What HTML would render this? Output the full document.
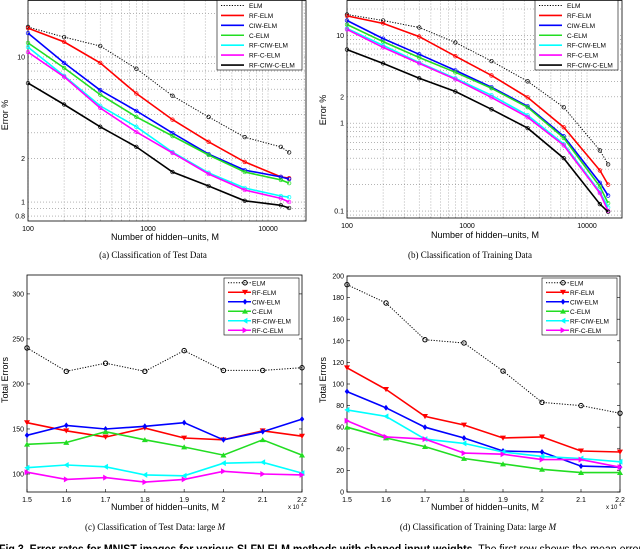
<!DOCTYPE html>
<html><head><meta charset="utf-8"><style>
html,body{margin:0;padding:0;background:#fff;overflow:hidden}
svg{display:block;font-family:"Liberation Sans",sans-serif}
.cap{font-family:"Liberation Serif",serif}
</style></head><body>
<svg id="fig" width="640" height="549" viewBox="0 0 640 549" xmlns="http://www.w3.org/2000/svg"></svg>
<script>
// ---- data ----
const seriesNames = ["ELM","RF-ELM","CIW-ELM","C-ELM","RF-CIW-ELM","RF-C-ELM","RF-CIW-C-ELM"];
const seriesColors = ["#000","#f00","#0000ff","#22dd22","#00ffff","#ff00ff","#000"];
const hiddenUnits = [100,200,400,800,1600,3200,6400,12800,15000];
const testElm = [16.1,13.7,11.9,8.3,5.4,3.86,2.8,2.4,2.2];
const testRf = [15.8,12.7,9.1,5.6,3.7,2.6,1.89,1.49,1.46];
const testCiw = [14.6,9.1,5.9,4.25,2.99,2.14,1.66,1.49,1.44];
const testC = [12.5,8.4,5.5,3.86,2.85,2.11,1.61,1.42,1.35];
const testRfCiw = [11.7,7.4,4.6,3.3,2.21,1.59,1.25,1.10,1.08];
const testRfC = [10.8,7.3,4.45,3.04,2.18,1.56,1.21,1.06,1.0];
const testRfCiwC = [6.6,4.7,3.3,2.4,1.61,1.29,1.02,0.95,0.91];
const trainElm = [17.3,14.8,12.3,8.3,5.1,3.0,1.52,0.49,0.34];
const trainRf = [16.7,13.7,9.7,5.8,3.5,1.97,0.9,0.29,0.2];
const trainCiw = [14.8,9.2,6.1,4.0,2.57,1.56,0.71,0.21,0.15];
const trainC = [13.3,8.5,5.6,3.8,2.5,1.52,0.68,0.19,0.123];
const trainRfCiw = [12,7.7,4.9,3.25,2.08,1.23,0.58,0.165,0.11];
const trainRfC = [11.7,7.3,4.8,3.16,1.97,1.17,0.56,0.16,0.1];
const trainRfCiwC = [6.9,4.8,3.25,2.3,1.44,0.88,0.4,0.12,0.098];
const largeM = [1.5,1.6,1.7,1.8,1.9,2.0,2.1,2.2];
const largeTestElm = [240,214,223,214,237,215,215,218];
const largeTestRf = [157,148,141,151,140,138,148,142];
const largeTestCiw = [143,154,150,153,157,138,147,161];
const largeTestC = [133,135,147,138,130,121,138,121];
const largeTestRfCiw = [107,110,108,99,98,112,113,101];
const largeTestRfC = [102,94,96,91,94,103,100,99];
const largeTrainElm = [192,175,141,138,112,83,80,73];
const largeTrainRf = [115,95,70,62,50,51,38,37];
const largeTrainCiw = [93,78,60,50,38,37,24,23];
const largeTrainC = [60,50,42,31,26,21,18,18];
const largeTrainRfCiw = [76,70,49,45,37,33,31,28];
const largeTrainRfC = [66,51,49,36,35,30,30,23];
const xTickLabelsLog = ["100","1000","10000"];
const xTicksLog = [100,1000,10000];
const yTicksTest = [0.8,1,2,10];
const yTicksTrain = [0.1,1,2,10];
const yTicksLargeTest = [100,150,200,250,300];
const yTicksLargeTrain = [0,20,40,60,80,100,120,140,160,180,200];
const markers = ["circle","down","diamond","up","left","right"];

const NS="http://www.w3.org/2000/svg";
const svg=document.getElementById('fig');
function el(tag,attrs,parent){const e=document.createElementNS(NS,tag);for(const k in attrs)e.setAttribute(k,attrs[k]);(parent||svg).appendChild(e);return e;}
function txt(s,attrs,parent){const t=el('text',attrs,parent);t.textContent=s;return t;}

function logPanel(name,L,R,T,B,xmin,xmax,ymin,ymax,yTicks,series,legend){
  const g=el('g',{});
  
  
  const lx0=Math.log10(xmin),lx1=Math.log10(xmax),ly0=Math.log10(ymin),ly1=Math.log10(ymax);
  const X=v=>L+(Math.log10(v)-lx0)/(lx1-lx0)*(R-L);
  const Y=v=>B-(Math.log10(v)-ly0)/(ly1-ly0)*(T-B)*-1;
  // grid
  for(let d=100;d<=10000;d*=10)for(let k=1;k<10;k++){const v=d*k;if(v<xmin||v>xmax)continue;
    el('line',{x1:X(v),x2:X(v),y1:T,y2:B,stroke:'#888','stroke-width':0.6,'stroke-dasharray':'1,2'},g);}
  for(let d=0.01;d<=100;d*=10)for(let k=1;k<10;k++){const v=d*k;if(v<ymin||v>ymax)continue;
    el('line',{x1:L,x2:R,y1:Y(v),y2:Y(v),stroke:'#888','stroke-width':0.6,'stroke-dasharray':'1,2'},g);}
  el('rect',{x:L,y:T,width:R-L,height:B-T,fill:'none',stroke:'#000','stroke-width':0.8},g);
  xTicksLog.forEach((v,i)=>{const t=txt(xTickLabelsLog[i],{x:X(v),y:B+10,'font-size':7,'text-anchor':'middle'},g);
    });
  yTicks.forEach(v=>{const t=txt(String(v),{x:L-3,y:Y(v)+2.5,'font-size':7,'text-anchor':'end'},g);
    });
  series.forEach((s,i)=>{
    const pts=hiddenUnits.map((h,j)=>X(h).toFixed(1)+','+Y(s[j]).toFixed(1)).join(' ');
    const p=el('polyline',{points:pts,fill:'none',stroke:seriesColors[i],'stroke-width':i==0?1:1.6,'stroke-dasharray':i==0?'1.2,1.5':'none'},g);
    
    hiddenUnits.forEach((h,j)=>{const c=el('circle',{cx:X(h),cy:Y(s[j]),r:1.8,fill:'none',stroke:seriesColors[i],'stroke-width':0.7},g);
      });
  });
  drawLegend(g,legend[0],legend[1],legend[2],legend[3],7,false);
}

function marker(g,type,x,y,col){
  const r=3;let m;
  if(type=='circle')m=el('circle',{cx:x,cy:y,r:2.2,fill:'none',stroke:col,'stroke-width':1},g);
  else{let p;
    if(type=='down')p=[[x-r,y-r*0.8],[x+r,y-r*0.8],[x,y+r*0.9]];
    if(type=='up')p=[[x-r,y+r*0.8],[x+r,y+r*0.8],[x,y-r*0.9]];
    if(type=='left')p=[[x+r*0.8,y-r],[x+r*0.8,y+r],[x-r*0.9,y]];
    if(type=='right')p=[[x-r*0.8,y-r],[x-r*0.8,y+r],[x+r*0.9,y]];
    if(type=='diamond')p=[[x,y-r],[x+r*0.75,y],[x,y+r],[x-r*0.75,y]];
    m=el('polygon',{points:p.map(q=>q.join(',')).join(' '),fill:col},g);}
  return m;
}

function drawLegend(g,x0,y0,x1,y1,n,withMarkers){
  const lg=el('g',{},g);
  
  
  el('rect',{x:x0,y:y0,width:x1-x0,height:y1-y0,fill:'#fff',stroke:'#000','stroke-width':0.6},lg);
  const step=(y1-y0)/n;
  for(let i=0;i<n;i++){
    const y=y0+step*(i+0.5);
    const e=el('g',{},lg);
    
    
    el('line',{x1:x0+4,x2:x0+27,y1:y,y2:y,stroke:seriesColors[i],'stroke-width':i==0?1:1.6,'stroke-dasharray':i==0?'1.2,1.5':'none'},e);
    if(withMarkers)marker(e,markers[i],x0+21,y,seriesColors[i]);
    txt(seriesNames[i],{x:x0+(withMarkers?28:32),y:y+2.5,'font-size':6.5},e);
  }
}

function linPanel(name,L,R,T,B,ymin,ymax,yTicks,series,legend){
  const g=el('g',{});
  
  
  const X=v=>L+(v-largeM[0])/(largeM[largeM.length-1]-largeM[0])*(R-L);
  const Y=v=>B-(v-ymin)/(ymax-ymin)*(B-T);
  el('rect',{x:L,y:T,width:R-L,height:B-T,fill:'none',stroke:'#000','stroke-width':0.8},g);
  largeM.forEach(v=>{el('line',{x1:X(v),x2:X(v),y1:B,y2:B-3,stroke:'#000','stroke-width':0.6},g);
    const t=txt(String(v),{x:X(v),y:B+10,'font-size':7,'text-anchor':'middle'},g);
    });
  yTicks.forEach(v=>{el('line',{x1:L,x2:L+3,y1:Y(v),y2:Y(v),stroke:'#000','stroke-width':0.6},g);
    el('line',{x1:R,x2:R-3,y1:Y(v),y2:Y(v),stroke:'#000','stroke-width':0.6},g);
    const t=txt(String(v),{x:L-3,y:Y(v)+2.5,'font-size':7,'text-anchor':'end'},g);
    });
  series.forEach((s,i)=>{
    const pts=largeM.map((m,j)=>X(m).toFixed(1)+','+Y(s[j]).toFixed(1)).join(' ');
    const p=el('polyline',{points:pts,fill:'none',stroke:seriesColors[i],'stroke-width':i==0?1:1.6,'stroke-dasharray':i==0?'1.2,1.5':'none'},g);
    
    largeM.forEach((m,j)=>{const k=marker(g,markers[i],X(m),Y(s[j]),seriesColors[i]);
      });
  });
  txt('x 10',{x:R-14,y:B+17,'font-size':6},g);
  txt('4',{x:R-1,y:B+14,'font-size':4.5},g);
  drawLegend(g,legend[0],legend[1],legend[2],legend[3],6,true);
}

logPanel('chart-a-test-error',28,306,0.5,221,100*Math.pow(10,-0/120),100*Math.pow(10,278/120),0.74,24.5,yTicksTest,
  [testElm,testRf,testCiw,testC,testRfCiw,testRfC,testRfCiwC],[217,0.5,302,70]);
logPanel('chart-b-train-error',347,622,0.5,218,100,100*Math.pow(10,275/120),Math.pow(10,-(218-123)/88),Math.pow(10,123/88),yTicksTrain,
  [trainElm,trainRf,trainCiw,trainC,trainRfCiw,trainRfC,trainRfCiwC],[535,0.5,618,70]);
linPanel('chart-c-large-test',27,302,275,492,80,321,yTicksLargeTest,
  [largeTestElm,largeTestRf,largeTestCiw,largeTestC,largeTestRfCiw,largeTestRfC],[224,278,299,335]);
linPanel('chart-d-large-train',347,620,276,492,0,200,yTicksLargeTrain,
  [largeTrainElm,largeTrainRf,largeTrainCiw,largeTrainC,largeTrainRfCiw,largeTrainRfC],[542,278,617,335]);

// labels
[[165,240],[485,238],[165,510],[485,510]].forEach(p=>{const t=txt('Number of hidden\u2013units, M',{x:p[0],y:p[1],'font-size':9,'text-anchor':'middle'});
  });
[[8,115,'Error %'],[326,110,'Error %'],[8,380,'Total Errors'],[326,380,'Total Errors']].forEach(p=>{
  const t=txt(p[2],{x:p[0],y:p[1],'font-size':9,'text-anchor':'middle',transform:'rotate(-90 '+p[0]+' '+p[1]+')'});
  });
const caps=[[153,258,'(a) Classification of Test Data'],[470,258,'(b) Classification of Training Data']];
caps.forEach(c=>{const t=txt(c[2],{x:c[0],y:c[1],'font-size':9,'text-anchor':'middle','class':'cap'});});
const tc=txt('(c) Classification of Test Data: large ',{x:155,y:530,'font-size':9,'text-anchor':'middle','class':'cap'});

const tci=el('tspan',{'font-style':'italic'},tc);tci.textContent='M';
const td=txt('(d) Classification of Training Data: large ',{x:478,y:530,'font-size':9,'text-anchor':'middle','class':'cap'});

const tdi=el('tspan',{'font-style':'italic'},td);tdi.textContent='M';
const fc=txt('',{x:-1,y:553,'font-size':11.5,textLength:643,lengthAdjust:'spacingAndGlyphs'});

const b=el('tspan',{'font-weight':'bold'},fc);b.textContent='Fig 3. Error rates for MNIST images for various SLFN ELM methods with shaped input weights.';
const n=el('tspan',{},fc);n.textContent=' The first row shows the mean error';
</script>
</body></html>
